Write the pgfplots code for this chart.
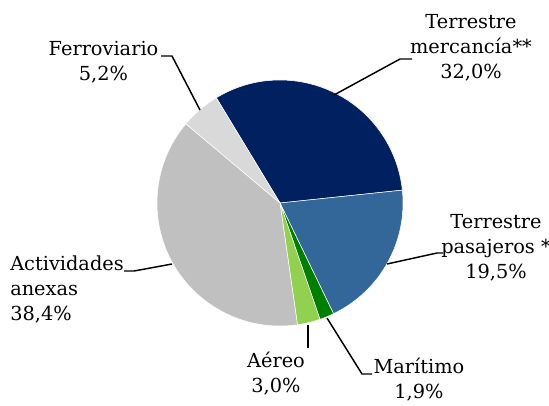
\documentclass[border=0pt]{standalone}
\usepackage{pgfplots}
\pgfplotsset{compat=1.18}
\usepackage{fontspec}
\setmainfont{DejaVu Serif}
\definecolor{cMerc}{RGB}{0,32,96}
\definecolor{cPas}{RGB}{51,102,153}
\definecolor{cMar}{RGB}{0,128,0}
\definecolor{cAer}{RGB}{146,208,80}
\definecolor{cAne}{RGB}{192,192,192}
\definecolor{cFer}{RGB}{217,217,217}
% share (%) / colour, clockwise from the start angle
\def\piedata{32.0/cMerc, 19.5/cPas, 1.9/cMar, 3.0/cAer, 38.4/cAne, 5.2/cFer}
\def\startangle{121.2}
\begin{document}
\begin{tikzpicture}[lbl/.style={font={\fontsize{14.5}{18.75}\selectfont}, inner sep=0pt}]
\begin{axis}[
  scale only axis, width=411.75pt, height=303.75pt,
  xmin=0, xmax=549, ymin=0, ymax=405,
  axis lines=none, clip=false,
]
\xdef\cum{\startangle}
\foreach \v/\c in \piedata {
  \pgfmathsetmacro\a{\cum}
  \pgfmathsetmacro\b{\cum-3.6*\v}
  \edef\tmp{\noexpand\fill[\c, draw=white, line width=0.4pt] (axis cs:280,202) -- (axis cs:{280+123*cos(\a)},{202+123*sin(\a)}) arc[start angle=\a, end angle=\b, radius=92.25pt] -- cycle;}
  \tmp
  \xdef\cum{\b}
}
% leader lines
\draw[line width=1.1pt] (axis cs:161,349) -- (axis cs:172,349) -- (axis cs:200,295);
\draw[line width=1.1pt] (axis cs:334,310) -- (axis cs:400,346) -- (axis cs:412,346);
\draw[line width=1.1pt] (axis cs:387,141) -- (axis cs:437,152) -- (axis cs:443,152);
\draw[line width=1.1pt] (axis cs:327,87) -- (axis cs:362,31) -- (axis cs:372,31);
\draw[line width=1.1pt] (axis cs:308,80) -- (axis cs:308,57);
\draw[line width=1.1pt] (axis cs:124,134) -- (axis cs:134,134) -- (axis cs:172,141);
% labels
\node[lbl, align=center] at (axis cs:103.5,342.5) {Ferroviario\\5,2\%};
\node[lbl, align=center] at (axis cs:471,357.5) {Terrestre\\mercancía**\\32,0\%};
\node[lbl, align=center] at (axis cs:496,157) {Terrestre\\pasajeros *\\19,5\%};
\node[lbl, align=center] at (axis cs:419,25) {Marítimo\\1,9\%};
\node[lbl, align=center] at (axis cs:276,31) {Aéreo\\3,0\%};
\node[lbl, align=left, anchor=west] at (axis cs:10,115.5) {Actividades\\anexas\\38,4\%};
\end{axis}
\pgfresetboundingbox
\path[use as bounding box] (current axis.south west) rectangle (current axis.north east);
\end{tikzpicture}
\end{document}
